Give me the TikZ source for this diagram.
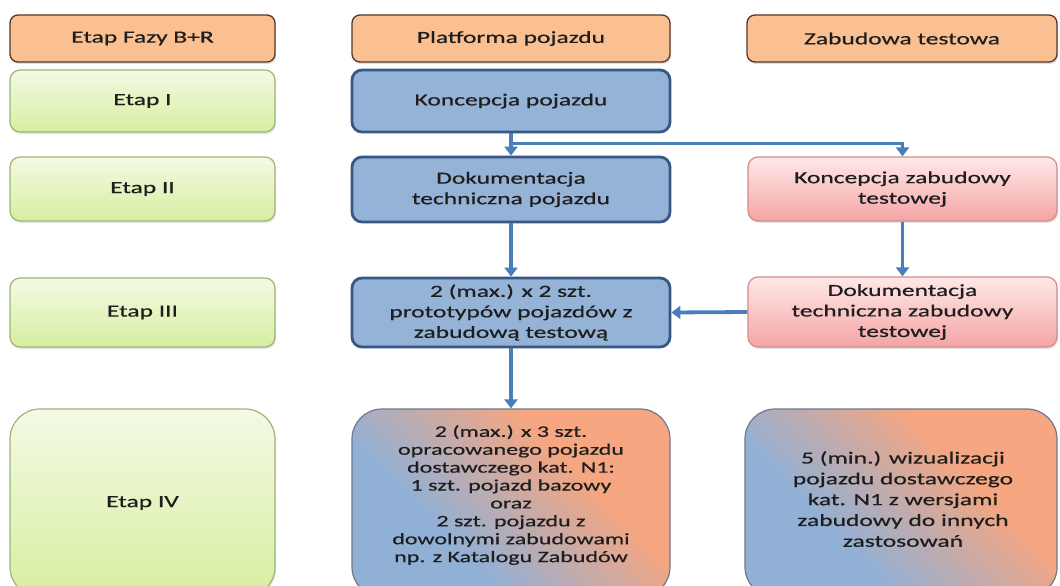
\documentclass[tikz,border=0pt]{standalone}
\usepackage{fontspec}
\setmainfont{Carlito}[FakeStretch=1.5,FakeBold=0.6]
\usetikzlibrary{arrows.meta,shadows,calc}
\definecolor{hdrfill}{RGB}{250,192,145}
\definecolor{hdrdraw}{RGB}{85,55,40}
\definecolor{grtop}{RGB}{244,250,228}
\definecolor{grbot}{RGB}{214,238,160}
\definecolor{grdraw}{RGB}{160,180,120}
\definecolor{blfill}{RGB}{149,179,215}
\definecolor{bldraw}{RGB}{55,88,132}
\definecolor{pktop}{RGB}{255,232,232}
\definecolor{pkbot}{RGB}{244,164,164}
\definecolor{pkdraw}{RGB}{210,140,140}
\definecolor{ivb}{RGB}{145,176,214}
\definecolor{ivo}{RGB}{246,166,128}
\definecolor{ivdraw}{RGB}{110,120,140}
\definecolor{arrcol}{RGB}{74,126,187}
\definecolor{txt}{RGB}{30,30,30}
\pgfdeclareverticalshading{ivsh}{100bp}{color(0bp)=(ivb); color(36bp)=(ivb); color(64bp)=(ivo); color(100bp)=(ivo)}
\tikzset{
  boxbase/.style={rounded corners=10pt, align=center, text=txt, inner sep=0pt,
    font=\fontsize{17}{20.5}\selectfont},
  hdr/.style={boxbase, rounded corners=8pt, fill=hdrfill, draw=hdrdraw, line width=1.3pt,
    drop shadow={opacity=0.25, shadow xshift=1pt, shadow yshift=-2pt}},
  grn/.style={boxbase, top color=grtop, bottom color=grbot, draw=grdraw, line width=1.2pt,
    drop shadow={opacity=0.2, shadow xshift=1pt, shadow yshift=-2pt}},
  blu/.style={boxbase, fill=blfill, draw=bldraw, line width=2.8pt},
  pnk/.style={boxbase, top color=pktop, bottom color=pkbot, draw=pkdraw, line width=1.2pt,
    drop shadow={opacity=0.2, shadow xshift=1pt, shadow yshift=-2pt}},
  ivbox/.style={rounded corners=30pt, shading=ivsh, shading angle=-45, draw=ivdraw, line width=1.2pt},
  ivtxt/.style={align=center, text=txt, inner sep=0pt},
  arr/.style={draw=arrcol, line width=3.8pt, -{Triangle[width=13pt,length=9pt]}},
}
\begin{document}
\begin{tikzpicture}[x=1pt,y=-1pt]
\useasboundingbox (0,0) rectangle (1060,586);
\clip (0,0) rectangle (1060,586);
\fill[white] (0,0) rectangle (1060,586);
% headers
\node[hdr, minimum width=265pt, minimum height=47pt] (h1) at (142.5,38.5) {Etap Fazy B+R};
\node[hdr, minimum width=318pt, minimum height=47pt] (h2) at (511,38.5) {Platforma pojazdu};
\node[hdr, minimum width=310pt, minimum height=47pt] (h3) at (902,38.5) {Zabudowa testowa};
% stage column
\node[grn, minimum width=265pt, minimum height=62pt] (e1) at (142.5,101) {Etap I};
\node[grn, minimum width=265pt, minimum height=64pt] (e2) at (142.5,189) {Etap II};
\node[grn, minimum width=265pt, minimum height=69pt] (e3) at (142.5,312.5) {Etap III};
\node[grn, rounded corners=30pt, minimum width=265pt, minimum height=188pt] (e4) at (142.5,503) {Etap IV};
% platform column
\node[blu, minimum width=318pt, minimum height=62pt] (kp) at (511,101) {Koncepcja pojazdu};
\node[blu, minimum width=318pt, minimum height=65pt] (dp) at (511,189.5) {Dokumentacja\\techniczna pojazdu};
\node[blu, minimum width=318pt, minimum height=69pt] (m3) at (511,312.5) {2 (max.) x 2 szt.\\prototypów pojazdów z\\zabudową testową};
\node[ivbox, minimum width=318pt, minimum height=188pt] (m4) at (511,503) {};
\node[ivtxt, font=\fontsize{16}{17.9}\selectfont] (m4t) at (511,495) {2 (max.) x 3 szt.\\opracowanego pojazdu\\dostawczego kat. N1:\\1 szt. pojazd bazowy\\oraz\\2 szt. pojazdu z\\dowolnymi zabudowami\\np. z Katalogu Zabudów};
% test body column
\node[pnk, minimum width=309pt, minimum height=64pt] (kz) at (902.5,189) {Koncepcja zabudowy\\testowej};
\node[pnk, minimum width=309pt, minimum height=70pt] (dz) at (902.5,312) {Dokumentacja\\techniczna zabudowy\\testowej};
\node[ivbox, minimum width=312pt, minimum height=188pt] (r4) at (901,503) {};
\node[ivtxt, font=\fontsize{17}{20.8}\selectfont] (r4t) at (903,499) {5 (min.) wizualizacji\\pojazdu dostawczego\\kat. N1 z wersjami\\zabudowy do innych\\zastosowań};
% connectors
\coordinate (br) at ($(kp.south)+(0,10)$);
\draw[arr] (kp.south) -- (dp.north);
\draw[arr] (br) -| (kz.north);
\draw[arr] (dp.south) -- (m3.north);
\draw[arr] (kz.south) -- (dz.north);
\draw[arr] (dz.west) -- (m3.east);
\draw[arr] (m3.south) -- (m4.north);
\end{tikzpicture}
\end{document}
